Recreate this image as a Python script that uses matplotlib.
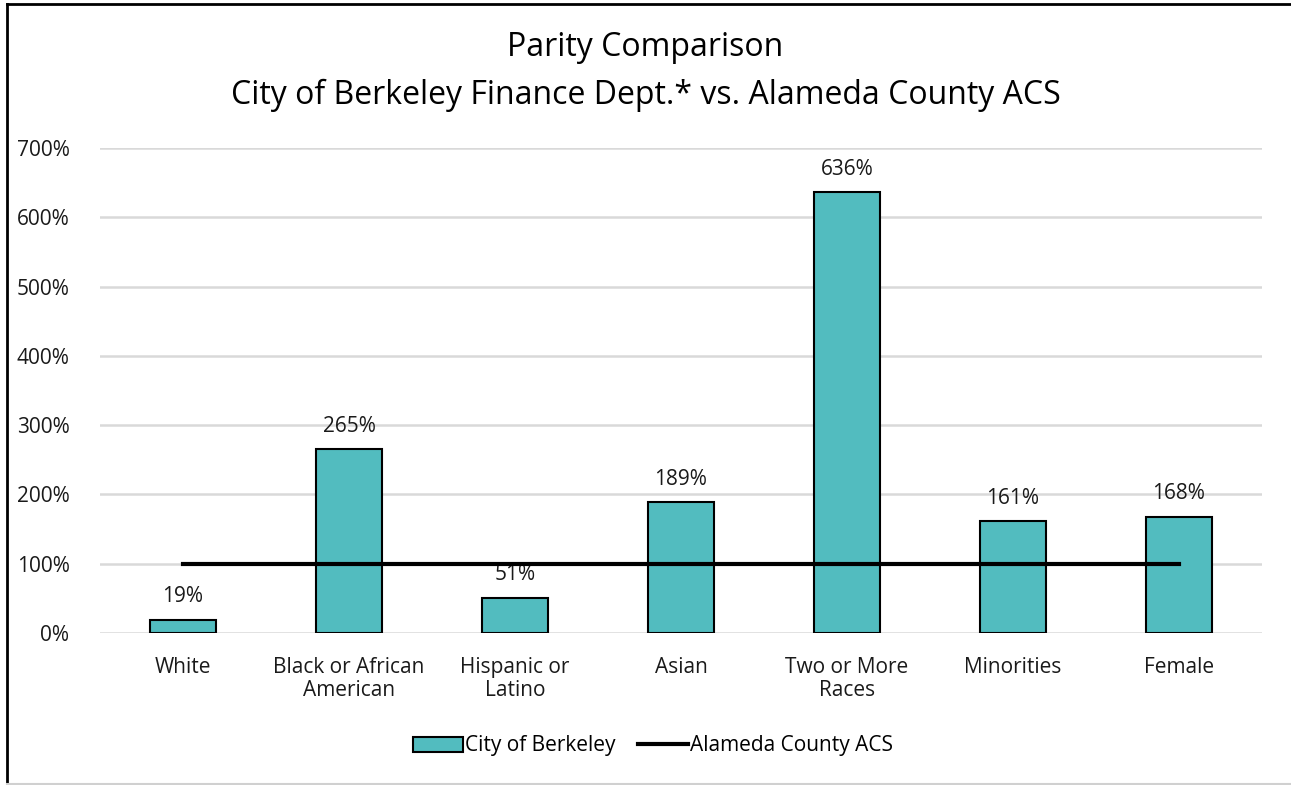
import matplotlib.pyplot as plt
from matplotlib.lines import Line2D

# chart data
categories = ['White', 'Black or African\nAmerican', 'Hispanic or\nLatino', 'Asian',
              'Two or More\nRaces', 'Minorities', 'Female']
berkeley = [0.19, 2.65, 0.51, 1.89, 6.36, 1.61, 1.68]
county = [1.0, 1.0, 1.0, 1.0, 1.0, 1.0, 1.0]
labels = ['19%', '265%', '51%', '189%', '636%', '161%', '168%']
yticks = [0, 1, 2, 3, 4, 5, 6, 7]

plt.rcParams['font.family'] = ['Open Sans', 'DejaVu Sans']

fig = plt.figure(figsize=(12.91, 7.85), dpi=100)
ax = fig.add_axes([100 / 1291, 152 / 785, 1162 / 1291, 485 / 785])

x = list(range(len(categories)))
bars = ax.bar(x, berkeley, width=0.4, color='#52BCBF', edgecolor='black',
              linewidth=1.5, zorder=2, label='City of Berkeley')
ax.plot(x, county, color='black', linewidth=3, zorder=3, label='Alameda County ACS')

for xi, v, t in zip(x, berkeley, labels):
    ax.annotate(t, (xi, v), xytext=(0, 9), textcoords='offset points',
                ha='center', va='bottom', fontsize=15, color='#1a1a1a', zorder=1)

ax.set_xlim(-0.5, 6.5)
ax.set_ylim(0, 7)
ax.set_yticks(yticks)
ax.set_yticklabels([f'{int(t * 100)}%' for t in yticks])
ax.set_xticks(x)
ax.set_xticklabels(categories, linespacing=1.15)
ax.tick_params(length=0, labelsize=15, colors='#1a1a1a')
ax.tick_params(axis='x', pad=17)
ax.tick_params(axis='y', pad=22)
ax.grid(axis='y', color='#D9D9D9', linewidth=1.8, zorder=0)
ax.set_axisbelow(True)
for s in ax.spines.values():
    s.set_visible(False)

fig.text(0.5, 1 - 47 / 785, 'Parity Comparison', ha='center', va='center', fontsize=23)
fig.text(0.5, 1 - 95 / 785, 'City of Berkeley Finance Dept.* vs. Alameda County ACS',
         ha='center', va='center', fontsize=23)

handles, names = ax.get_legend_handles_labels()
fig.legend(handles[::-1], names[::-1], loc='center',
           bbox_to_anchor=(653 / 1291, 1 - 746 / 785),
           ncol=2, frameon=False, fontsize=15, handlelength=2.4,
           columnspacing=1.1, handletextpad=0.1)

# outer border: black left and top, light grey bottom
fig.add_artist(Line2D([7 / 1291, 7 / 1291], [0, 1 - 4 / 785], color='black', lw=2))
fig.add_artist(Line2D([7 / 1291, 1], [1 - 4 / 785, 1 - 4 / 785], color='black', lw=2))
fig.add_artist(Line2D([7 / 1291, 1], [1 / 785, 1 / 785], color='#D0D0D0', lw=1.5))

fig.savefig('out.png', dpi=100)
